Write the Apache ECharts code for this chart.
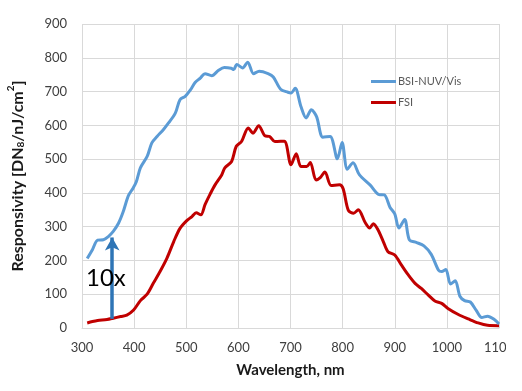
<!DOCTYPE html>
<html><head><meta charset="utf-8">
<script src="https://cdn.jsdelivr.net/npm/echarts@6/dist/echarts.min.js"></script>
<style>html,body{margin:0;padding:0;background:#fff;width:522px;height:391px;overflow:hidden}#c{width:506px;height:391px}</style>
</head><body><div id="c"></div>
<script>
const bsiWl = [310,320,330,341,350,360,370,379,389,398,404,412,425,434,444,456,466,479,488,498,508,517,527,536,549,562,573,586,591,597,608,618,629,640,657,667,681,695,701,709,720,730,740,750,762,776,790,799,809,820,832,853,870,880,891,900,908,919,928,942,956,970,984,990,998,1007,1016,1025,1034,1045,1056,1067,1078,1091,1100];
const bsiVal = [206,232,260,261,270,286,310,344,392,414,432,474,508,548,567,587,607,636,676,686,705,727,740,753,747,763,771,769,765,780,770,787,753,760,753,743,707,698,696,710,656,622,646,626,565,567,501,549,470,489,454,423,395,394,357,338,296,321,261,253,243,218,171,167,173,130,140,94,81,77,53,31,35,25,12];
const fsiWl = [310,320,330,348,360,374,386,399,412,425,437,450,463,476,488,501,511,519,528,536,546,555,568,574,587,596,606,619,628,639,651,660,670,688,701,711,720,731,738,749,757,766,778,794,801,811,821,830,843,852,859,868,878,887,900,913,926,939,951,964,977,990,1002,1022,1041,1060,1078,1100];
const fsiVal = [15,19,22,25,29,34,38,53,81,100,133,168,207,256,295,318,330,341,335,365,397,423,453,474,493,538,552,592,577,599,569,567,552,553,483,516,478,478,490,438,445,462,422,424,412,348,340,350,313,296,309,290,256,226,216,186,157,132,117,98,80,73,58,40,27,15,8,7];
const seriesNames = ['BSI-NUV/Vis','FSI'];
const arrowFrom = [358, 27];
const arrowTo = [358, 268];
const annotation = '10x';

const pairs = (xs, ys) => xs.map((x, i) => [x, ys[i]]);
const chart = echarts.init(document.getElementById('c'), null, {renderer:'canvas'});
const F = 'Lato, "Open Sans", sans-serif';
chart.setOption({
  animation:false,
  backgroundColor:'#fff',
  grid:{left:82,right:7,top:24,bottom:63,containLabel:false,outerBoundsMode:'none'},
  xAxis:{type:'value',min:300,max:1100,interval:100,
    name:'Wavelength, nm',nameLocation:'middle',nameGap:35,
    nameTextStyle:{fontFamily:F,fontSize:15,fontWeight:'bold',color:'#1a1a1a'},
    axisLine:{show:true,lineStyle:{color:'#d9d9d9',width:1}},
    axisTick:{show:false},
    axisLabel:{fontFamily:F,fontSize:13,color:'#404040',margin:13,formatter:v=>String(v)},
    splitLine:{show:true,lineStyle:{color:'#d9d9d9',width:1}}},
  yAxis:{type:'value',min:0,max:900,interval:100,
    name:'{a|Responsivity [DN}{sub|8}{a|/nJ/cm}{sup|2}{a|]}',nameLocation:'middle',nameGap:56,
    nameTextStyle:{rich:{
      a:{fontFamily:F,fontSize:16,fontWeight:'bold',color:'#1a1a1a',lineHeight:20,verticalAlign:'bottom'},
      sub:{fontFamily:F,fontSize:10,fontWeight:'bold',color:'#1a1a1a',lineHeight:18,verticalAlign:'bottom'},
      sup:{fontFamily:F,fontSize:10,fontWeight:'bold',color:'#1a1a1a',lineHeight:14,verticalAlign:'top'}}},
    axisLine:{show:false},axisTick:{show:false},
    axisLabel:{fontFamily:F,fontSize:13,color:'#404040',margin:15},
    splitLine:{show:true,lineStyle:{color:'#d9d9d9',width:1}}},
  legend:{orient:'vertical',left:366,top:71,itemWidth:25,itemHeight:3,itemGap:10,icon:'rect',
    textStyle:{fontFamily:F,fontSize:11,color:'#595959',padding:[0,0,0,-3]},
    data:seriesNames},
  series:[
    {name:seriesNames[0],type:'line',data:pairs(bsiWl,bsiVal),showSymbol:false,smooth:0.3,
      lineStyle:{color:'#5b9bd5',width:3},itemStyle:{color:'#5b9bd5'},z:3,
      markLine:{silent:true,symbol:['none','arrow'],symbolSize:[11,13],
        lineStyle:{color:'#2e75b6',width:3.5,type:'solid'},label:{show:false},
        data:[[{coord:arrowFrom},{coord:arrowTo}]]}},
    {name:seriesNames[1],type:'line',data:pairs(fsiWl,fsiVal),showSymbol:false,smooth:0.3,
      lineStyle:{color:'#c00000',width:3},itemStyle:{color:'#c00000'},z:2}
  ],
  graphic:[{type:'text',left:86,top:266,z:100,style:{text:annotation,fontFamily:F,fontSize:24,fill:'#000'}}]
});
</script></body></html>
